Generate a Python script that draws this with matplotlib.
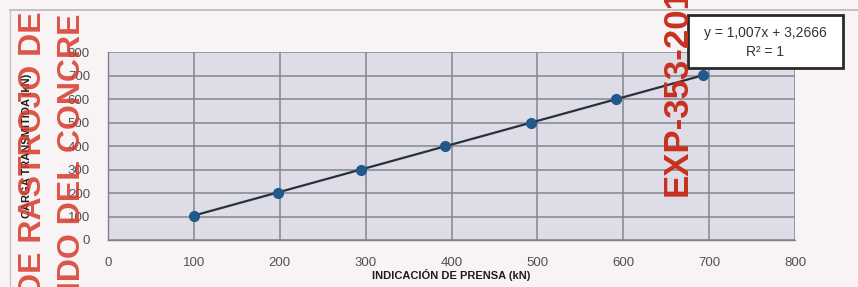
"""
Calibration chart: press indication vs transmitted load, with linear trendline.
Writes: out.png
"""

import matplotlib.pyplot as plt
from matplotlib.patches import Rectangle
import numpy as np

OUTPUT_PNG = "out.png"

# Readings taken off the scanned chart
press_kn = [100, 198, 295, 392, 492, 591, 693]
load_kn = [103, 202, 300, 398, 499, 598, 701]

# Trendline printed on the chart
SLOPE = 1.007
INTERCEPT = 3.2666
EQ_LINE_1 = "y = 1,007x + 3,2666"
EQ_LINE_2 = "R² = 1"

X_TICKS = [0, 100, 200, 300, 400, 500, 600, 700, 800]
Y_TICKS = [0, 100, 200, 300, 400, 500, 600, 700, 800]

X_LABEL = "INDICACIÓN DE PRENSA (kN)"
Y_LABEL = "CARGA TRANSMITIDA (kN)"

# Red stamp texts over the scan
STAMP_LEFT_1 = "DE RASTROJO DE"
STAMP_LEFT_2 = "IDO DEL CONCRE"
STAMP_RIGHT = "EXP-353-2016"

FONT = ["Liberation Sans", "DejaVu Sans"]


def px(x, y):
    # reference pixel coords -> figure fraction
    return x / 858, 1 - y / 287


def main():
    fig = plt.figure(figsize=(8.58, 2.87), dpi=100)
    fig.patch.set_facecolor("#f8f4f6")

    # outer chart-area border (only top and left visible in the scan)
    fig.add_artist(plt.Line2D([10 / 858, 1.0], [1 - 10 / 287] * 2,
                              transform=fig.transFigure, color="#b8b8bc", lw=1.2))
    fig.add_artist(plt.Line2D([10 / 858] * 2, [0, 1 - 10 / 287],
                              transform=fig.transFigure, color="#c4c4c8", lw=1.0))

    ax = fig.add_axes([108 / 858, 1 - 240 / 287, (795 - 108) / 858, (240 - 52) / 287])
    ax.set_facecolor("#dedce6")

    ax.set_xlim(0, 800)
    ax.set_ylim(0, 800)
    ax.set_xticks(X_TICKS)
    ax.set_yticks(Y_TICKS)
    ax.grid(True, color="#85858e", lw=1.1)
    ax.set_axisbelow(True)
    for side in ["top", "right"]:
        ax.spines[side].set_visible(False)
    for side in ["left", "bottom"]:
        ax.spines[side].set_color("#808088")
        ax.spines[side].set_linewidth(1.0)
    ax.tick_params(length=0, labelsize=9.5, labelcolor="#505054")
    ax.tick_params(axis="x", pad=12)
    ax.tick_params(axis="y", pad=13)
    for lab in ax.get_xticklabels() + ax.get_yticklabels():
        lab.set_family(FONT)

    # trendline then markers
    xs = np.array([min(press_kn), max(press_kn)])
    ax.plot(xs, SLOPE * xs + INTERCEPT, color="#26323e", lw=1.6, zorder=3)
    ax.plot(press_kn, load_kn, "o", color="#1f5a8a", ms=7, zorder=4)

    ax.set_xlabel(X_LABEL, fontsize=8, fontweight="bold", color="#1e1e1e",
                  labelpad=0, family=FONT)
    ax.set_ylabel(Y_LABEL, fontsize=8, fontweight="bold", color="#1e1e1e",
                  labelpad=26, family=FONT)

    # equation box
    x0, y0 = px(688, 68)
    x1, y1 = px(843, 15)
    fig.add_artist(Rectangle((x0, y0), x1 - x0, y1 - y0, transform=fig.transFigure,
                             fc="white", ec="#2a2a2a", lw=2.0, zorder=5))
    fig.text(*px(765, 33), EQ_LINE_1, fontsize=10, color="#333333", ha="center",
             va="center", family=FONT, zorder=6)
    fig.text(*px(765, 52), EQ_LINE_2, fontsize=10, color="#333333", ha="center",
             va="center", family=FONT, zorder=6)

    red = "#d63a2a"
    fig.text(*px(33, 296), STAMP_LEFT_1, rotation=90, fontsize=23, fontweight="bold",
             color=red, alpha=0.85, ha="center", va="bottom", family=FONT, zorder=7)
    fig.text(*px(72, 290), STAMP_LEFT_2, rotation=90, fontsize=23, fontweight="bold",
             color=red, alpha=0.85, ha="center", va="bottom", family=FONT, zorder=7)
    fig.text(*px(677, 196), STAMP_RIGHT, rotation=90, fontsize=25, fontweight="bold",
             color="#c8301f", ha="center", va="bottom", family=FONT, zorder=7)

    fig.savefig(OUTPUT_PNG, dpi=100, facecolor=fig.get_facecolor())


if __name__ == "__main__":
    main()
